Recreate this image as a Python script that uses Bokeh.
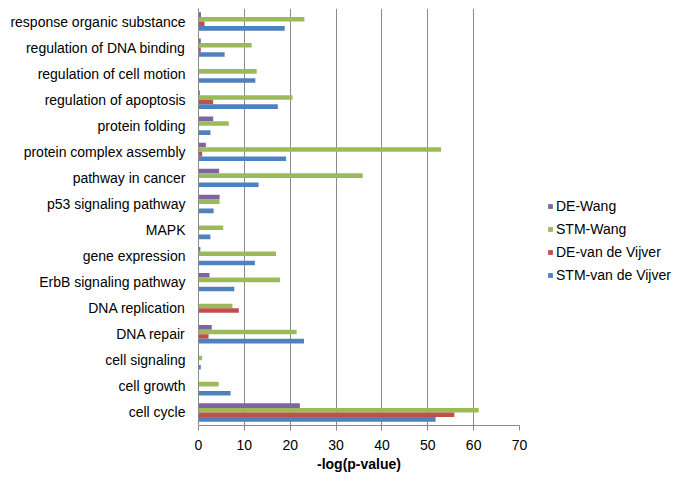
from bokeh.plotting import figure
from bokeh.models import ColumnDataSource, FactorRange, Range1d, Legend, LegendItem, FixedTicker
from bokeh.transform import dodge
from bokeh.embed import file_html
from bokeh.resources import INLINE

categories = ["response organic substance", "regulation of DNA binding", "regulation of cell motion",
              "regulation of apoptosis", "protein folding", "protein complex assembly",
              "pathway in cancer", "p53 signaling pathway", "MAPK", "gene expression",
              "ErbB signaling pathway", "DNA replication", "DNA repair", "cell signaling",
              "cell growth", "cell cycle"]
de_wang = [0.55, 0.5, 0.0, 0.3, 3.2, 1.6, 4.5, 4.6, 0.0, 0.4, 2.4, 0.0, 2.9, 0.0, 0.0, 22.1]
stm_wang = [23.1, 11.6, 12.7, 20.5, 6.6, 52.9, 35.8, 4.6, 5.4, 16.9, 17.8, 7.4, 21.4, 0.8, 4.4, 61.1]
de_vdv = [1.3, 0.5, 0.0, 3.2, 0.0, 0.8, 0.0, 0.0, 0.0, 0.0, 0.0, 8.8, 2.2, 0.0, 0.0, 55.8]
stm_vdv = [18.8, 5.7, 12.4, 17.3, 2.6, 19.1, 13.1, 3.3, 2.6, 12.3, 7.8, 0.0, 23.0, 0.5, 7.0, 51.7]
series_names = ["DE-Wang", "STM-Wang", "DE-van de Vijver", "STM-van de Vijver"]
x_ticks = [0, 10, 20, 30, 40, 50, 60, 70]

colors = ["#8064A2", "#9BBB59", "#C0504D", "#4F81BD"]
FONT = "Liberation Sans"

src = ColumnDataSource(dict(cat=categories, de_wang=de_wang, stm_wang=stm_wang,
                            de_vdv=de_vdv, stm_vdv=stm_vdv))

p = figure(frame_width=321, frame_height=417, output_backend="svg", toolbar_location=None,
           y_range=FactorRange(*reversed(categories)), x_range=Range1d(0, 70),
           min_border_top=8, min_border_left=198, min_border_right=0, min_border_bottom=56)

bw = 0.176
offs = [1.5 * bw, 0.5 * bw, -0.5 * bw, -1.5 * bw]
cols = ["de_wang", "stm_wang", "de_vdv", "stm_vdv"]
renderers = []
for c, off, colr in zip(cols, offs, colors):
    r = p.hbar(y=dodge("cat", off, range=p.y_range), right=c, left=0, height=bw,
               source=src, fill_color=colr, line_color=None)
    renderers.append(r)

p.outline_line_color = None
p.ygrid.grid_line_color = None
p.xgrid.grid_line_color = "#8a8a8a"
p.xgrid.grid_line_width = 1
p.xaxis.ticker = FixedTicker(ticks=x_ticks)
p.xaxis.axis_line_color = "#8a8a8a"
p.xaxis.major_tick_line_color = "#8a8a8a"
p.xaxis.major_tick_out = 5
p.xaxis.major_tick_in = 0
p.xaxis.minor_tick_line_color = None
p.xaxis.major_label_text_font = FONT
p.xaxis.major_label_text_font_size = "14px"
p.xaxis.major_label_text_color = "#000000"
p.xaxis.major_label_standoff = 9
p.xaxis.axis_label = "-log(p-value)"
p.xaxis.axis_label_text_font = FONT
p.xaxis.axis_label_text_font_size = "14px"
p.xaxis.axis_label_text_font_style = "bold"
p.xaxis.axis_label_text_color = "#000000"
p.xaxis.axis_label_standoff = 3

p.yaxis.axis_line_color = "#8a8a8a"
p.yaxis.major_tick_line_color = None
p.yaxis.major_label_text_font = FONT
p.yaxis.major_label_text_font_size = "14px"
p.yaxis.major_label_text_color = "#000000"
p.yaxis.major_label_standoff = 7

legend = Legend(items=[LegendItem(label=n, renderers=[r]) for n, r in zip(series_names, renderers)],
                location=(28, 141), padding=0, margin=0, spacing=5,
                glyph_width=6, glyph_height=6, label_height=18, label_standoff=3,
                label_text_font=FONT, label_text_font_size="14px", label_text_color="#000000",
                border_line_color=None, background_fill_alpha=0)
p.add_layout(legend, "right")

open("out.html", "w").write(file_html(p, INLINE))
